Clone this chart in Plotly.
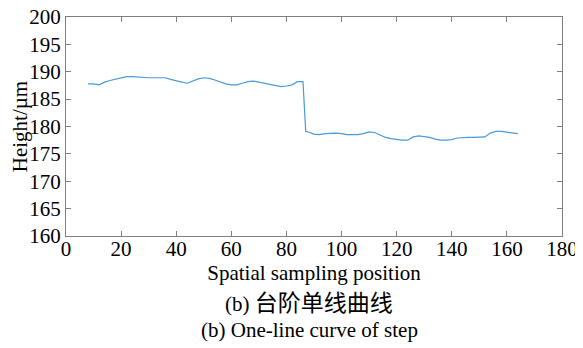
import plotly.graph_objects as go

positions = [8, 10, 12, 14, 16, 18, 20, 22, 24, 26, 28, 30, 32, 34, 36, 38, 40, 42, 44, 46,
             48, 50, 52, 54, 56, 58, 60, 62, 64, 66, 68, 70, 72, 74, 76, 78, 80, 82, 84, 86,
             87, 88, 90, 92, 94, 96, 98, 100, 102, 104, 106, 108, 110, 112, 114, 116, 118, 120,
             122, 124, 126, 128, 130, 132, 134, 136, 138, 140, 142, 144, 146, 148, 150, 152,
             154, 156, 158, 160, 162, 164]
heights = [187.8, 187.8, 187.6, 188.1, 188.4, 188.6, 188.9, 189.1, 189.1, 189.0, 188.9, 188.9,
           188.9, 188.9, 188.9, 188.6, 188.3, 188.1, 187.9, 188.3, 188.7, 188.9, 188.8, 188.5,
           188.1, 187.8, 187.6, 187.6, 187.9, 188.2, 188.3, 188.1, 187.8, 187.6, 187.4, 187.3,
           187.4, 187.6, 188.2, 188.2,
           179.1, 179.0, 178.6, 178.5, 178.7, 178.8, 178.8, 178.7, 178.5, 178.5, 178.5, 178.7,
           179.0, 178.9, 178.5, 178.0, 177.8, 177.6, 177.5, 177.5, 178.1, 178.3, 178.2, 178.0,
           177.7, 177.5, 177.5, 177.6, 177.9, 178.0, 178.0, 178.0, 178.0, 178.1, 178.8, 179.1,
           179.1, 179.0, 178.9, 178.7]

x_ticks = [0, 20, 40, 60, 80, 100, 120, 140, 160, 180]
y_ticks = [160, 165, 170, 175, 180, 185, 190, 195, 200]

FONT = "Liberation Serif"

fig = go.Figure()
fig.add_trace(go.Scatter(x=positions, y=heights, mode="lines",
                         line=dict(color="#4a9ad6", width=1.2), showlegend=False))

axis_common = dict(showgrid=False, zeroline=False, showline=True, linecolor="#7f7f7f",
                   linewidth=1, mirror="ticks", ticks="inside", ticklen=5, automargin=False,
                   ticklabeloverflow="allow",
                   tickcolor="#7f7f7f", tickfont=dict(family=FONT, size=21, color="black"))

fig.update_xaxes(range=[0, 180], tickvals=x_ticks, **axis_common, ticklabelstandoff=-6,
                 title=dict(text="Spatial sampling position",
                            font=dict(family=FONT, size=21, color="black"), standoff=1))
fig.update_yaxes(range=[160, 200], tickvals=y_ticks, **axis_common,
                 title=dict(text="Height/µm",
                            font=dict(family=FONT, size=21, color="black"), standoff=0))

fig.add_annotation(text="(b) <span style='font-size:23px'>台阶单线曲线</span>",
                   xref="paper", yref="paper", x=0.49, y=-0.306,
                   xanchor="center", yanchor="middle", showarrow=False,
                   font=dict(family="Liberation Serif, Noto Sans CJK SC", size=21, color="black"))
fig.add_annotation(text="(b) One-line curve of step", xref="paper", yref="paper", x=0.49, y=-0.429,
                   xanchor="center", yanchor="middle", showarrow=False,
                   font=dict(family=FONT, size=21, color="black"))

# the page body adds an 8px offset, compensate in the margins
fig.update_layout(width=583, height=348, margin=dict(l=58, r=29, t=9, b=120),
                  paper_bgcolor="white", plot_bgcolor="white")

fig.write_html("out.html")
